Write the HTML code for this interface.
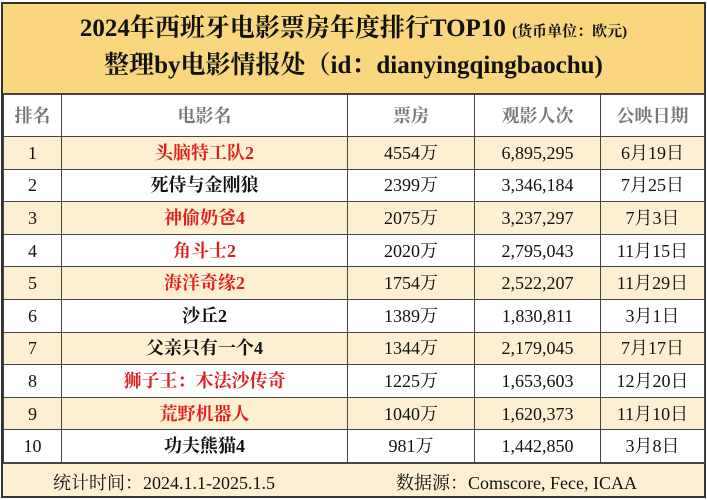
<!DOCTYPE html>
<html><head><meta charset="utf-8"><style>
*{margin:0;padding:0;box-sizing:border-box}
body{width:707px;height:500px;background:#fff;font-family:"Liberation Serif","Noto Serif CJK SC",serif;overflow:hidden}
#wrap{position:absolute;left:1px;top:2px;width:705px;height:496px;border:2px solid #333;background:#fff}
#title{position:absolute;left:0;top:0;width:701px;height:90px;background:#fad77f;border-bottom:1.5px solid #444;text-align:center;color:#111}
.t1{position:absolute;top:10px;width:100%;font-size:25px;line-height:30px;font-weight:bold}
.t1 small{font-size:15px}
.t2{position:absolute;top:47px;width:100%;font-size:25px;line-height:30px;font-weight:bold}
table{position:absolute;left:0;top:90px;border-collapse:collapse;width:701px;table-layout:fixed}
td{border:1px solid #444;text-align:center;font-size:18px;height:32.6px;line-height:30px;color:#111;padding:0;overflow:hidden;white-space:nowrap}
tr.h td{height:42px;line-height:40px;color:#777;font-size:18px;font-weight:bold}
tr.y td{background:#fdf0d2}
.r{color:#e0201c;font-weight:bold}
.n{font-weight:bold}
#foot{position:absolute;left:0;top:459px;width:701px;height:33px;background:#fdf0d2;border-top:1px solid #444;font-size:18px;color:#111}
#foot span{position:absolute;top:5px}
</style></head><body>
<div id="wrap">
<div id="title">
<div class="t1">2024年西班牙电影票房年度排行TOP10 <small>(货币单位：欧元)</small></div>
<div class="t2">整理by电影情报处（id：dianyingqingbaochu)</div>
</div>
<table>
<colgroup><col style="width:58px"><col style="width:286px"><col style="width:127px"><col style="width:126px"><col style="width:104px"></colgroup>
<tr class="h"><td>排名</td><td>电影名</td><td>票房</td><td>观影人次</td><td>公映日期</td></tr>
<tr class="y"><td>1</td><td class="r">头脑特工队2</td><td>4554万</td><td>6,895,295</td><td>6月19日</td></tr>
<tr><td>2</td><td class="n">死侍与金刚狼</td><td>2399万</td><td>3,346,184</td><td>7月25日</td></tr>
<tr class="y"><td>3</td><td class="r">神偷奶爸4</td><td>2075万</td><td>3,237,297</td><td>7月3日</td></tr>
<tr><td>4</td><td class="r">角斗士2</td><td>2020万</td><td>2,795,043</td><td>11月15日</td></tr>
<tr class="y"><td>5</td><td class="r">海洋奇缘2</td><td>1754万</td><td>2,522,207</td><td>11月29日</td></tr>
<tr><td>6</td><td class="n">沙丘2</td><td>1389万</td><td>1,830,811</td><td>3月1日</td></tr>
<tr class="y"><td>7</td><td class="n">父亲只有一个4</td><td>1344万</td><td>2,179,045</td><td>7月17日</td></tr>
<tr><td>8</td><td class="r">狮子王：木法沙传奇</td><td>1225万</td><td>1,653,603</td><td>12月20日</td></tr>
<tr class="y"><td>9</td><td class="r">荒野机器人</td><td>1040万</td><td>1,620,373</td><td>11月10日</td></tr>
<tr><td>10</td><td class="n">功夫熊猫4</td><td>981万</td><td>1,442,850</td><td>3月8日</td></tr>
</table>
<div id="foot">
<span style="left:50px">统计时间：2024.1.1-2025.1.5</span>
<span style="left:393px">数据源：Comscore, Fece, ICAA</span>
</div>
</div>
</body></html>
